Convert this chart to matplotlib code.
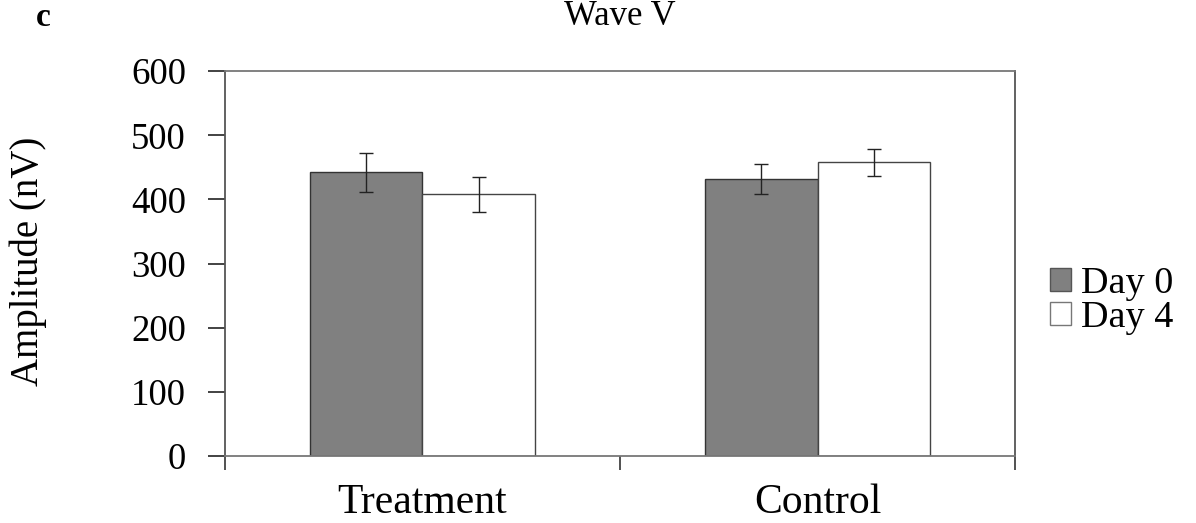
import matplotlib
matplotlib.use("Agg")
import matplotlib.pyplot as plt
from matplotlib.patches import Patch
import numpy as np

categories = ["Treatment", "Control"]
series_names = ["Day 0", "Day 4"]
day0 = [442, 432]
day4 = [408, 458]
day0_err = [30, 23]
day4_err = [27, 21]
yticks = [0, 100, 200, 300, 400, 500, 600]

plt.rcParams['font.family'] = ['Liberation Serif', 'DejaVu Serif']

fig = plt.figure(figsize=(11.96, 5.23), dpi=100)
ax = fig.add_axes([0.188, 0.128, 0.661, 0.736])

centers = np.arange(len(categories)) + 0.5
w = 0.285
ax.bar(centers - w/2, day0, width=w, color='#808080', edgecolor='#333333', linewidth=1.0, zorder=2)
ax.bar(centers + w/2, day4, width=w, color='white', edgecolor='#444444', linewidth=1.0, zorder=2)
ax.errorbar(centers - w/2, day0, yerr=day0_err, fmt='none', ecolor='#222222', elinewidth=1.0, capsize=5, capthick=1.0, zorder=3)
ax.errorbar(centers + w/2, day4, yerr=day4_err, fmt='none', ecolor='#222222', elinewidth=1.0, capsize=5, capthick=1.0, zorder=3)

ax.set_xlim(0, 2)
ax.set_ylim(0, 600)
ax.set_yticks(yticks)
ax.set_yticklabels([str(t) for t in yticks], fontsize=26.5)
ax.set_xticks([0, 1, 2])
ax.set_xticklabels([])
ax.set_xticks(centers, minor=True)
ax.set_xticklabels(categories, minor=True, fontsize=30)
ax.tick_params(axis='x', which='minor', length=0, pad=20)
ax.tick_params(axis='x', which='major', direction='out', length=10, width=1.2, color='#333333')
ax.tick_params(axis='y', direction='out', length=12, width=1.2, color='#222222', pad=16)

for s in ['left', 'right']:
    ax.spines[s].set_color('#555555')
    ax.spines[s].set_linewidth(1.3)
for s in ['top', 'bottom']:
    ax.spines[s].set_color('#777777')
    ax.spines[s].set_linewidth(1.3)

fig.text(0.024, 0.501, "Amplitude (nV)", fontsize=28, rotation=90, ha='center', va='center')
fig.text(0.518, 0.968, "Wave V", fontsize=25, ha='center', va='center')
fig.text(0.036, 0.966, "c", fontsize=24, fontweight='bold', ha='center', va='center')

handles = [Patch(facecolor='#808080', edgecolor='#555555', linewidth=1.0),
           Patch(facecolor='white', edgecolor='#777777', linewidth=1.0)]
fig.legend(handles, series_names, loc='center left', bbox_to_anchor=(0.878, 0.425),
           frameon=False, fontsize=27.5, handlelength=0.55, handleheight=0.55,
           handletextpad=0.27, labelspacing=0.0, borderpad=0, borderaxespad=0)

fig.savefig("out.png", dpi=100)
